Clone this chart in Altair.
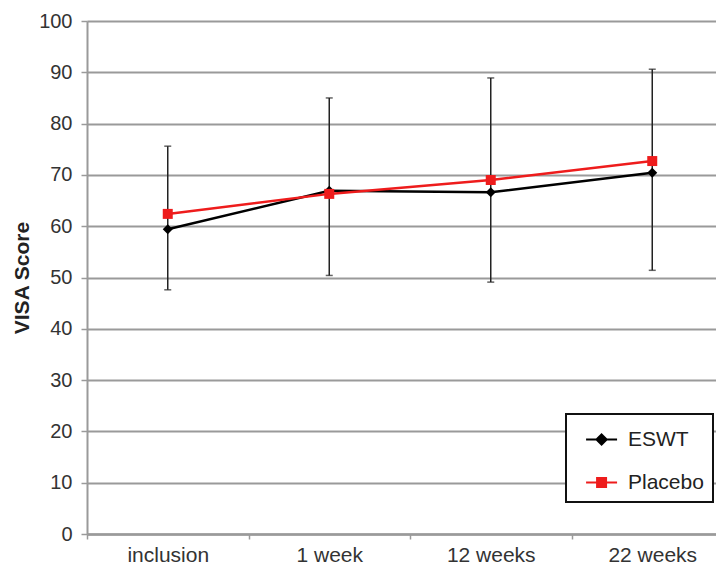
import altair as alt
import pandas as pd

# ---- data ----
times = ["inclusion", "1 week", "12 weeks", "22 weeks"]
groups = ["ESWT", "Placebo"]
eswt_mean = [59.4, 66.9, 66.6, 70.4]
placebo_mean = [62.4, 66.3, 69.0, 72.7]
err_low = [47.6, 50.4, 49.1, 51.4]
err_high = [75.6, 85.0, 88.9, 90.6]
y_ticks = list(range(0, 101, 10))

# ---- styles ----
line_colors = ["#000000", "#ee1c1c"]
marker_shapes = ["diamond", "square"]
legend_paths = [
    "M-0.35,0L1.65,0M0.65,-0.33L0.98,0L0.65,0.33L0.32,0Z",
    "M-0.35,0L1.65,0M0.36,-0.29L0.94,-0.29L0.94,0.29L0.36,0.29Z",
]
FONT = "Liberation Sans"
GRID = "#9a9a9a"

means = pd.DataFrame({
    "time": times * 2,
    "group": [groups[0]] * len(times) + [groups[1]] * len(times),
    "score": eswt_mean + placebo_mean,
})
errs = pd.DataFrame({"time": times, "low": err_low, "high": err_high})

x_enc = alt.X(
    "time:N",
    sort=times,
    scale=alt.Scale(type="band", paddingInner=0, paddingOuter=0, range=[0, 646]),
    axis=alt.Axis(
        title=None, tickBand="extent", grid=False, labelAngle=0,
        labelFontSize=21, labelPadding=5, tickSize=5,
        domainWidth=2.5,
    ),
)
y_scale = alt.Scale(domain=[0, 100], nice=False)
y_axis = alt.Axis(values=y_ticks, labelFontSize=20, labelPadding=9, tickSize=6,
                  titleFontSize=21, titleFontWeight="bold", titlePadding=6)
TITLE = "VISA Score"

color_enc = alt.Color("group:N", scale=alt.Scale(domain=groups, range=line_colors), legend=None)

rules = alt.Chart(errs).mark_rule(color="#222222", strokeWidth=1.5).encode(
    x=x_enc,
    y=alt.Y("low:Q", scale=y_scale, axis=y_axis, title=TITLE),
    y2="high:Q",
)
cap_low = alt.Chart(errs).mark_tick(color="#222222", thickness=1.5, size=7).encode(
    x=x_enc, y=alt.Y("low:Q", scale=y_scale, title=TITLE)
)
cap_high = alt.Chart(errs).mark_tick(color="#222222", thickness=1.5, size=7).encode(
    x=x_enc, y=alt.Y("high:Q", scale=y_scale, title=TITLE)
)
lines = alt.Chart(means).mark_line(strokeWidth=2.5).encode(
    x=x_enc, y=alt.Y("score:Q", scale=y_scale, title=TITLE), color=color_enc
)
points = alt.Chart(means).mark_point(filled=True, size=100, opacity=1).encode(
    x=x_enc,
    y=alt.Y("score:Q", scale=y_scale, title=TITLE),
    color=color_enc,
    shape=alt.Shape("group:N", scale=alt.Scale(domain=groups, range=marker_shapes), legend=None),
)

leg = alt.Legend(
    title=None, orient="none", legendX=479, legendY=393,
    strokeColor="#111111", fillColor="white", padding=9,
    labelFont=FONT, labelFontSize=21, labelColor="#222222",
    labelOffset=20, rowPadding=16, symbolSize=961, symbolStrokeWidth=2,
)
legend_layer = alt.Chart(means).transform_filter("datum.score < 0").mark_point(
    filled=True, opacity=1, strokeWidth=2
).encode(
    x=x_enc,
    y=alt.Y("score:Q", scale=y_scale, title=TITLE),
    fill=alt.Fill("group:N", scale=alt.Scale(domain=groups, range=line_colors), legend=leg),
    stroke=alt.Stroke("group:N", scale=alt.Scale(domain=groups, range=line_colors), legend=leg),
    shape=alt.Shape("group:N", scale=alt.Scale(domain=groups, range=legend_paths), legend=leg),
)

chart = (
    alt.layer(rules, cap_low, cap_high, lines, points, legend_layer)
    .resolve_scale(shape="independent", fill="independent", stroke="independent")
    .properties(
        width=629, height=513,
        autosize=alt.AutoSizeParams(type="none"),
        padding={"top": 13, "left": 79, "right": 0, "bottom": 32},
    )
    .configure_view(stroke=None)
    .configure_axis(
        labelFont=FONT, titleFont=FONT, labelColor="#333333", titleColor="#222222",
        domainColor=GRID, domainWidth=2, tickColor=GRID, tickWidth=1.5,
        gridColor=GRID, gridWidth=2,
    )
    .configure_legend(strokeWidth=2)
)

chart.save("out.html", embed_options={"renderer": "svg", "actions": False})
